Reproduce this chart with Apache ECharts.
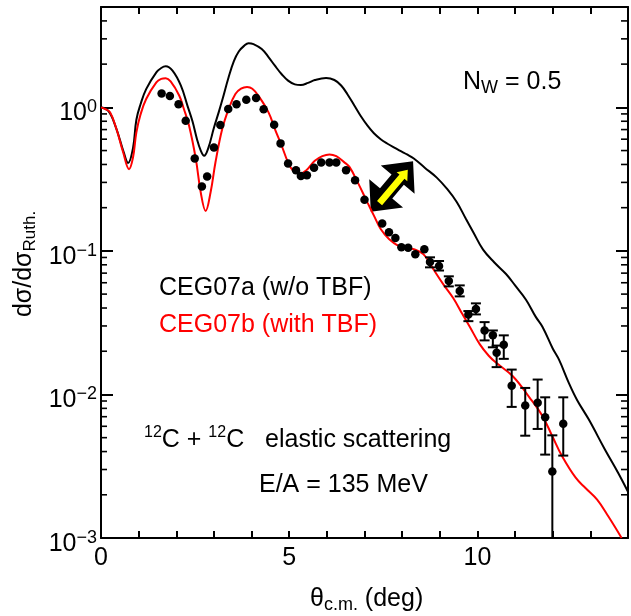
<!DOCTYPE html>
<html>
<head>
<meta charset="utf-8">
<script src="https://cdn.jsdelivr.net/npm/echarts@6/dist/echarts.min.js"></script>
<style>
  html, body { margin: 0; padding: 0; background: #fff; }
  #c { width: 631px; height: 616px; }
</style>
</head>
<body>
<div id="c"></div>
<script>
// 12C + 12C elastic scattering at E/A = 135 MeV: ratio to Rutherford vs c.m. angle

// [theta_cm (deg), dσ/dσ_Ruth] for CEG07a (without three-body force)
const cegA = [
  [0, 1.0], [0.2, 0.94], [0.4, 0.72], [0.6, 0.49], [0.72, 0.41], [0.85, 0.52], [0.94, 0.82],
  [1.05, 1.05], [1.2, 1.34], [1.47, 1.75], [1.6, 1.88], [1.72, 1.93], [1.9, 1.80], [2.12, 1.42],
  [2.3, 1.02], [2.43, 0.80], [2.55, 0.60], [2.65, 0.50], [2.74, 0.46], [2.85, 0.52], [3.0, 0.72],
  [3.13, 0.93], [3.22, 1.12], [3.39, 1.62], [3.53, 2.10], [3.66, 2.45], [3.8, 2.68], [3.92, 2.80],
  [4.05, 2.76], [4.27, 2.55], [4.45, 2.24], [4.62, 1.95], [4.8, 1.70], [4.97, 1.535], [5.15, 1.445],
  [5.31, 1.43], [5.5, 1.48], [5.68, 1.55], [5.98, 1.60], [6.2, 1.55], [6.38, 1.42], [6.55, 1.23],
  [6.73, 1.03], [6.9, 0.87], [7.08, 0.745], [7.25, 0.66], [7.43, 0.60], [7.6, 0.56], [7.78, 0.526],
  [8.0, 0.49], [8.13, 0.47], [8.31, 0.44], [8.6, 0.38], [8.92, 0.324], [9.2, 0.269], [9.45, 0.219],
  [9.7, 0.166], [9.89, 0.135], [10.15, 0.102], [10.45, 0.083], [10.76, 0.069], [11.0, 0.0575],
  [11.29, 0.0457], [11.55, 0.0347], [11.73, 0.0295], [12.0, 0.0209], [12.17, 0.0174], [12.43, 0.0120],
  [12.65, 0.00912], [12.96, 0.00668], [13.39, 0.00412], [13.74, 0.00284], [14.0, 0.0021]
];

// [theta_cm (deg), dσ/dσ_Ruth] for CEG07b (with three-body force)
const cegB = [
  [0, 1.0], [0.1, 0.977], [0.24, 0.923], [0.41, 0.706], [0.59, 0.485], [0.745, 0.371], [0.85, 0.447],
  [0.94, 0.670], [1.05, 0.891], [1.2, 1.143], [1.47, 1.493], [1.6, 1.578], [1.72, 1.596], [1.85, 1.514],
  [2.08, 1.205], [2.2, 0.977], [2.34, 0.745], [2.52, 0.436], [2.65, 0.255], [2.78, 0.190], [2.91, 0.255],
  [3.04, 0.413], [3.22, 0.706], [3.39, 0.973], [3.57, 1.239], [3.72, 1.349], [3.88, 1.387], [4.02, 1.349],
  [4.18, 1.205], [4.45, 0.923], [4.62, 0.706], [4.80, 0.540], [4.97, 0.413], [5.1, 0.363], [5.29, 0.345],
  [5.45, 0.363], [5.68, 0.424], [5.88, 0.457], [6.07, 0.470], [6.25, 0.457], [6.45, 0.417], [6.6, 0.385],
  [6.82, 0.300], [7.08, 0.217], [7.26, 0.174], [7.43, 0.142], [7.65, 0.121], [7.91, 0.108], [8.1, 0.105],
  [8.31, 0.1026], [8.57, 0.0946], [8.83, 0.0745], [9.1, 0.0582], [9.36, 0.0468], [9.6, 0.0363],
  [9.8, 0.0295], [10.06, 0.0224], [10.3, 0.0186], [10.5, 0.0166], [10.94, 0.0134], [11.38, 0.00955],
  [11.73, 0.00705], [11.99, 0.00511], [12.25, 0.00371], [12.61, 0.00263], [12.87, 0.00223],
  [13.18, 0.00185], [13.48, 0.00141], [13.83, 0.0010]
];

// measured cross sections [theta_cm (deg), dσ/dσ_Ruth]
const measured = [
  [1.61, 1.25], [1.83, 1.20], [2.06, 1.05], [2.25, 0.806], [2.49, 0.44], [2.68, 0.281], [2.82, 0.330],
  [3.0, 0.526], [3.17, 0.752], [3.38, 0.973], [3.60, 1.05], [3.86, 1.13], [4.12, 1.16], [4.32, 0.97],
  [4.60, 0.756], [4.77, 0.561], [4.97, 0.407], [5.18, 0.365], [5.31, 0.333], [5.47, 0.337], [5.66, 0.379],
  [5.85, 0.413], [6.07, 0.413], [6.25, 0.413], [6.51, 0.365], [6.75, 0.311], [7.00, 0.227], [7.47, 0.155],
  [7.65, 0.135], [7.82, 0.123], [7.98, 0.106], [8.16, 0.105], [8.35, 0.0947], [8.59, 0.1026],
  [8.74, 0.0837], [8.98, 0.0785], [9.24, 0.0617], [9.53, 0.0525], [9.76, 0.036], [9.96, 0.0393],
  [10.19, 0.0279], [10.41, 0.0258], [10.51, 0.0195], [10.70, 0.0222], [10.91, 0.0115], [11.27, 0.00837],
  [11.60, 0.00874], [11.80, 0.00694], [11.99, 0.00291], [12.28, 0.00624]
];

// uncertainty ranges [theta_cm, lower, upper]
const measuredErr = [
  [8.74, 0.0768, 0.0902], [8.98, 0.073, 0.085], [9.24, 0.0566, 0.0665], [9.53, 0.0482, 0.0575],
  [9.76, 0.0324, 0.0381], [9.96, 0.0361, 0.0431], [10.19, 0.0238, 0.0319], [10.41, 0.0213, 0.0279],
  [10.51, 0.0155, 0.0219], [10.70, 0.0177, 0.0258], [10.91, 0.00819, 0.0149], [11.27, 0.00516, 0.0111],
  [11.60, 0.00575, 0.0127], [11.80, 0.00381, 0.00955], [11.99, 0.001, 0.00519], [12.28, 0.00375, 0.00955]
];

// double arrow marker ends [theta, ratio]
const arrowOuter = [[7.167, 0.187, 8.29, 0.422]];
const arrowInner = [[7.40, 0.215, 8.15, 0.367]];

const xTickLabels = [0, 5, 10];
const yMajorTicks = [0.001, 0.01, 0.1, 1];
const yMinorTicks = [
  0.002, 0.003, 0.004, 0.005, 0.006, 0.007, 0.008, 0.009,
  0.02, 0.03, 0.04, 0.05, 0.06, 0.07, 0.08, 0.09,
  0.2, 0.3, 0.4, 0.5, 0.6, 0.7, 0.8, 0.9,
  2, 3, 4
];

const FONT = '"Liberation Sans", Arial, Helvetica, sans-serif';
const INK = '#000';

const chart = echarts.init(document.getElementById('c'), null, { renderer: 'canvas' });

function isMajor(v) {
  return yMajorTicks.some(t => Math.abs(v - t) / t < 1e-6);
}

function arrowPoints(p1, p2, headLen, headHalf, shaftHalf, twoHeads) {
  const dx = p2[0] - p1[0], dy = p2[1] - p1[1];
  const len = Math.hypot(dx, dy);
  const ux = dx / len, uy = dy / len;
  const nx = -uy, ny = ux;
  const at = (p, a, b) => [p[0] + ux * a + nx * b, p[1] + uy * a + ny * b];
  const pts = [];
  pts.push(p2);
  pts.push(at(p2, -headLen, headHalf));
  pts.push(at(p2, -headLen, shaftHalf));
  if (twoHeads) {
    pts.push(at(p1, headLen, shaftHalf));
    pts.push(at(p1, headLen, headHalf));
    pts.push(p1);
    pts.push(at(p1, headLen, -headHalf));
    pts.push(at(p1, headLen, -shaftHalf));
  } else {
    pts.push(at(p1, 0, shaftHalf));
    pts.push(at(p1, 0, -shaftHalf));
  }
  pts.push(at(p2, -headLen, -shaftHalf));
  pts.push(at(p2, -headLen, -headHalf));
  return pts;
}

const baseX = {
  type: 'value', min: 0, max: 14, interval: 1,
  axisLine: { show: true, onZero: false, lineStyle: { color: INK, width: 2 } },
  axisTick: { show: true, inside: true, length: 7, lineStyle: { color: INK, width: 2 } },
  splitLine: { show: false }
};
const baseY = {
  type: 'log', logBase: 10, min: 0.001, max: 5,
  axisLine: { show: true, onZero: false, lineStyle: { color: INK, width: 2 } },
  axisTick: { show: true, inside: true, length: 12, lineStyle: { color: INK, width: 2 } },
  splitLine: { show: false }
};

chart.setOption({
  backgroundColor: '#fff',
  animation: false,
  grid: { left: 101, top: 7, right: -2, bottom: 78, containLabel: false },
  xAxis: [
    Object.assign({}, baseX, {
      position: 'bottom',
      axisLabel: {
        show: true, margin: 8, color: INK, fontFamily: FONT, fontSize: 25,
        formatter: v => (xTickLabels.includes(v) ? String(v) : '')
      }
    }),
    Object.assign({}, baseX, { position: 'top', axisLabel: { show: false } })
  ],
  yAxis: [
    Object.assign({}, baseY, {
      position: 'left',
      axisLabel: {
        show: true, margin: 4, color: INK, fontFamily: FONT, padding: [12, 0, 0, 0],
        formatter: v => {
          if (!isMajor(v)) return '';
          const e = Math.round(Math.log10(v));
          return '{m|10}{e|' + (e < 0 ? '\u2212' + (-e) : String(e)) + '}';
        },
        rich: {
          m: { fontFamily: FONT, fontSize: 25, color: INK, lineHeight: 30 },
          e: { fontFamily: FONT, fontSize: 18, color: INK, lineHeight: 10, verticalAlign: 'top' }
        }
      }
    }),
    Object.assign({}, baseY, { position: 'right', axisLabel: { show: false } })
  ],
  series: [
    {
      // double arrow marker
      type: 'custom', coordinateSystem: 'cartesian2d', silent: true, z: 1,
      data: arrowOuter.concat(arrowInner).map((d, i) => d.concat([i])),
      encode: { x: [0, 2], y: [1, 3] },
      renderItem: (params, api) => {
        const p1 = api.coord([api.value(0), api.value(1)]);
        const p2 = api.coord([api.value(2), api.value(3)]);
        const outer = api.value(4) === 0;
        return {
          type: 'polygon',
          shape: { points: outer ? arrowPoints(p1, p2, 24, 22, 8, true) : arrowPoints(p1, p2, 9, 7, 3.3, false) },
          style: { fill: outer ? '#000' : '#ffff00', stroke: null }
        };
      }
    },
    {
      name: 'CEG07a (w/o TBF)', type: 'line', data: cegA, showSymbol: false, symbol: 'none',
      smooth: 0.4, lineStyle: { color: '#000', width: 2 }, z: 2
    },
    {
      name: 'CEG07b (with TBF)', type: 'line', data: cegB, showSymbol: false, symbol: 'none',
      smooth: 0.4, lineStyle: { color: '#ff0000', width: 2 }, z: 3
    },
    {
      // uncertainty bars
      type: 'custom', coordinateSystem: 'cartesian2d', silent: true, z: 4,
      data: measuredErr,
      encode: { x: 0, y: [1, 2] },
      renderItem: (params, api) => {
        const lo = api.coord([api.value(0), api.value(1)]);
        const hi = api.coord([api.value(0), api.value(2)]);
        const st = { stroke: '#000', lineWidth: 2 };
        const w = 5;
        return {
          type: 'group',
          children: [
            { type: 'line', shape: { x1: lo[0], y1: lo[1], x2: hi[0], y2: hi[1] }, style: st },
            { type: 'line', shape: { x1: hi[0] - w, y1: hi[1], x2: hi[0] + w, y2: hi[1] }, style: st },
            { type: 'line', shape: { x1: lo[0] - w, y1: lo[1], x2: lo[0] + w, y2: lo[1] }, style: st }
          ]
        };
      }
    },
    {
      name: 'data', type: 'scatter', data: measured, symbol: 'circle', symbolSize: 8.5,
      itemStyle: { color: '#000', opacity: 1 }, z: 5
    },
    {
      // minor log ticks on left and right frame
      type: 'custom', coordinateSystem: 'cartesian2d', silent: true, clip: false, z: 6,
      data: yMinorTicks.map(v => [0, v]),
      renderItem: (params, api) => {
        const p = api.coord([0, api.value(1)]);
        const cs = params.coordSys;
        const st = { stroke: '#000', lineWidth: 1.6 };
        return {
          type: 'group',
          children: [
            { type: 'line', shape: { x1: cs.x, y1: p[1], x2: cs.x + 6, y2: p[1] }, style: st },
            { type: 'line', shape: { x1: cs.x + cs.width - 7, y1: p[1], x2: cs.x + cs.width, y2: p[1] }, style: st }
          ]
        };
      }
    }
  ],
  graphic: [
    {
      type: 'text', x: 463, y: 82, z: 10,
      style: {
        text: '{m|N}{s|W}{m| = 0.5}', align: 'left', verticalAlign: 'middle',
        textAlign: 'left', textVerticalAlign: 'middle',
        rich: {
          m: { fontFamily: FONT, fontSize: 25, fill: INK, lineHeight: 30 },
          s: { fontFamily: FONT, fontSize: 18, fill: INK, lineHeight: 10, verticalAlign: 'bottom' }
        }
      }
    },
    {
      type: 'text', x: 159, y: 288, z: 10,
      style: {
        text: 'CEG07a (w/o TBF)', fontFamily: FONT, fontSize: 25, fill: INK,
        align: 'left', verticalAlign: 'middle', textAlign: 'left', textVerticalAlign: 'middle'
      }
    },
    {
      type: 'text', x: 159, y: 325, z: 10,
      style: {
        text: 'CEG07b (with TBF)', fontFamily: FONT, fontSize: 25, fill: '#ff0000',
        align: 'left', verticalAlign: 'middle', textAlign: 'left', textVerticalAlign: 'middle'
      }
    },
    {
      type: 'text', x: 144, y: 440, z: 10,
      style: {
        text: '{p|12}{m|C + }{p|12}{m|C   elastic scattering}', align: 'left', verticalAlign: 'middle',
        textAlign: 'left', textVerticalAlign: 'middle',
        rich: {
          m: { fontFamily: FONT, fontSize: 25, fill: INK, lineHeight: 30 },
          p: { fontFamily: FONT, fontSize: 16, fill: INK, lineHeight: 6, verticalAlign: 'top' }
        }
      }
    },
    {
      type: 'text', x: 259, y: 485, z: 10,
      style: {
        text: 'E/A = 135 MeV', fontFamily: FONT, fontSize: 25, fill: INK,
        align: 'left', verticalAlign: 'middle', textAlign: 'left', textVerticalAlign: 'middle'
      }
    },
    {
      type: 'text', x: 310, y: 599, z: 10,
      style: {
        text: '{m|\u03b8}{s|c.m.}{m| (deg)}', align: 'left', verticalAlign: 'middle',
        textAlign: 'left', textVerticalAlign: 'middle',
        rich: {
          m: { fontFamily: FONT, fontSize: 25, fill: INK, lineHeight: 30 },
          s: { fontFamily: FONT, fontSize: 18, fill: INK, lineHeight: 10, verticalAlign: 'bottom' }
        }
      }
    },
    {
      type: 'text', x: 24, y: 264, rotation: Math.PI / 2, z: 10,
      style: {
        text: '{m|d\u03c3/d\u03c3}{s|Ruth.}', align: 'center', verticalAlign: 'middle',
        textAlign: 'center', textVerticalAlign: 'middle',
        rich: {
          m: { fontFamily: FONT, fontSize: 25, fill: INK, lineHeight: 30 },
          s: { fontFamily: FONT, fontSize: 17, fill: INK, lineHeight: 18, verticalAlign: 'bottom' }
        }
      }
    }
  ]
});
</script>
</body>
</html>
